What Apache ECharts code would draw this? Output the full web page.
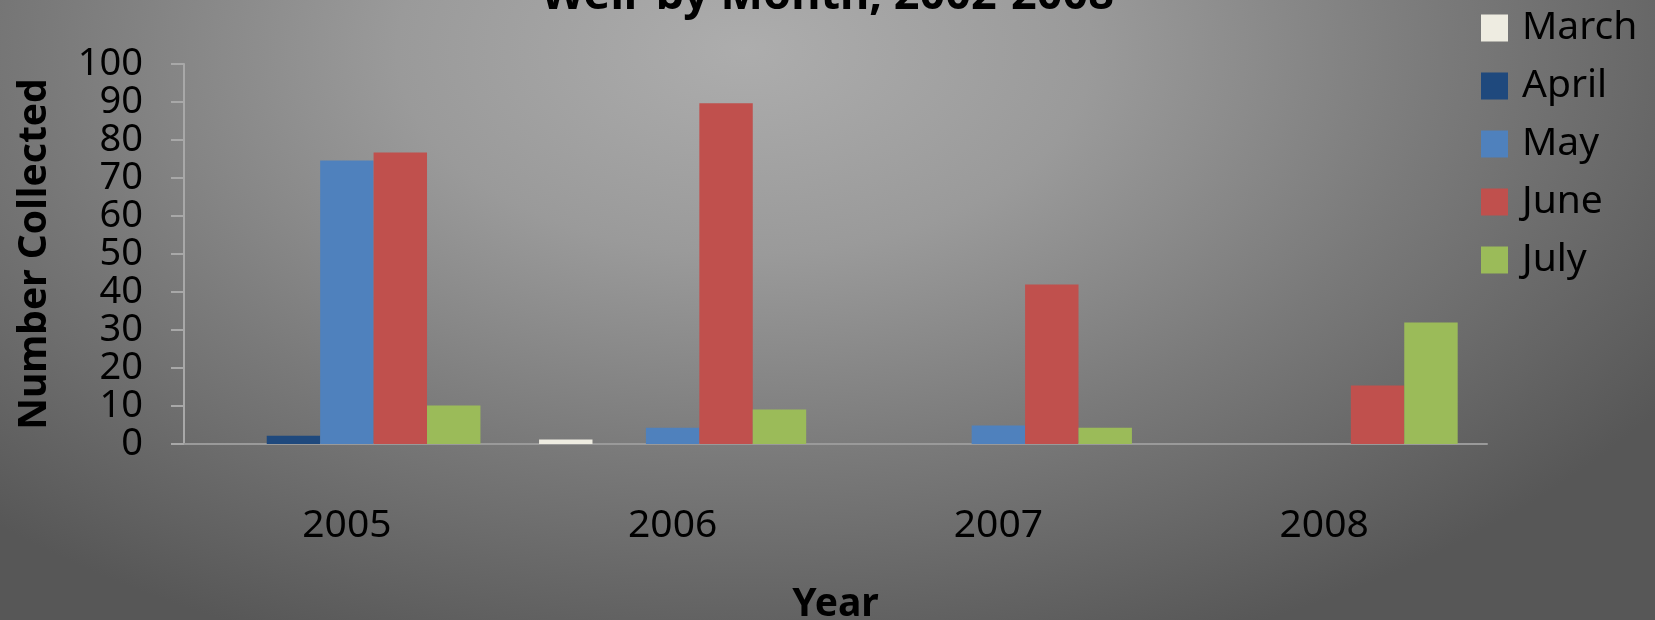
<!DOCTYPE html>
<html>
<head>
<meta charset="utf-8">
<script src="https://cdn.jsdelivr.net/npm/echarts@6/dist/echarts.min.js"></script>
<style>
    html, body { margin: 0; padding: 0; }
    #chartDiv {
        width: 1655px;
        height: 620px;
        background: radial-gradient(ellipse 70% 110% at 45% 8%, #adadad 0%, #9a9a9a 30%, #7a7a7a 60%, #575757 95%);
    }
</style>
</head>
<body>
<div id="chartDiv"></div>
<script>
// 年份 / 月份
var years = ['2005', '2006', '2007', '2008'];
var months = ['March', 'April', 'May', 'June', 'July'];

var marchData = [0, 1.2, 0, 0];
var aprilData = [2.2, 0, 0, 0];
var mayData = [74.6, 4.3, 4.9, 0];
var juneData = [76.7, 89.7, 42, 15.4];
var julyData = [10.1, 9.1, 4.3, 32];

var yTicks = [0, 10, 20, 30, 40, 50, 60, 70, 80, 90, 100];

var colors = ['#EEECE1', '#1F497D', '#4F81BD', '#C0504D', '#9BBB59'];
var seriesData = [marchData, aprilData, mayData, juneData, julyData];

var fontName = 'Noto Sans';

function makeSeries(i) {
    return {
        name: months[i],
        type: 'bar',
        barGap: '0%',
        barCategoryGap: '18%',
        itemStyle: { color: colors[i] },
        data: seriesData[i]
    };
}

var option = {
    animation: false,
    backgroundColor: 'transparent',
    color: colors,
    title: {
        text: 'Weir by Month, 2002-2008',
        left: 'center',
        top: -31,
        textStyle: {
            fontFamily: fontName,
            fontSize: 45,
            fontWeight: 'bold',
            color: '#000'
        }
    },
    legend: {
        orient: 'vertical',
        left: 1476,
        top: 3,
        icon: 'rect',
        itemWidth: 27,
        itemHeight: 27,
        itemGap: 18,
        textStyle: {
            fontFamily: fontName,
            fontSize: 39,
            color: '#000',
            lineHeight: 40,
            padding: [0, 0, 0, 9]
        },
        data: months
    },
    grid: {
        left: 184,
        right: 168,
        top: 64,
        bottom: 176,
        outerBoundsMode: 'none',
        containLabel: false
    },
    xAxis: {
        type: 'category',
        data: years,
        name: 'Year',
        nameLocation: 'middle',
        nameGap: 141,
        nameTextStyle: {
            fontFamily: fontName,
            fontSize: 39,
            fontWeight: 'bold',
            color: '#000'
        },
        axisLine: { lineStyle: { color: '#9a9a9a', width: 2 } },
        axisTick: { show: false },
        axisLabel: {
            margin: 62,
            fontFamily: fontName,
            fontSize: 39,
            color: '#000'
        }
    },
    yAxis: {
        type: 'value',
        min: yTicks[0],
        max: yTicks[yTicks.length - 1],
        interval: 10,
        name: 'Number Collected',
        nameLocation: 'middle',
        nameGap: 130,
        nameRotate: 90,
        nameTextStyle: {
            fontFamily: fontName,
            fontSize: 39,
            fontWeight: 'bold',
            color: '#000'
        },
        splitLine: { show: false },
        axisLine: { show: true, lineStyle: { color: '#a8a8a8', width: 2 } },
        axisTick: { show: true, length: 13, lineStyle: { color: '#a8a8a8', width: 2 } },
        axisLabel: {
            margin: 41,
            showMinLabel: true,
            showMaxLabel: true,
            hideOverlap: false,
            fontFamily: fontName,
            fontSize: 38,
            color: '#000'
        }
    },
    series: [makeSeries(0), makeSeries(1), makeSeries(2), makeSeries(3), makeSeries(4)]
};

var myChart = echarts.init(document.getElementById('chartDiv'));
myChart.setOption(option);
</script>
</body>
</html>
